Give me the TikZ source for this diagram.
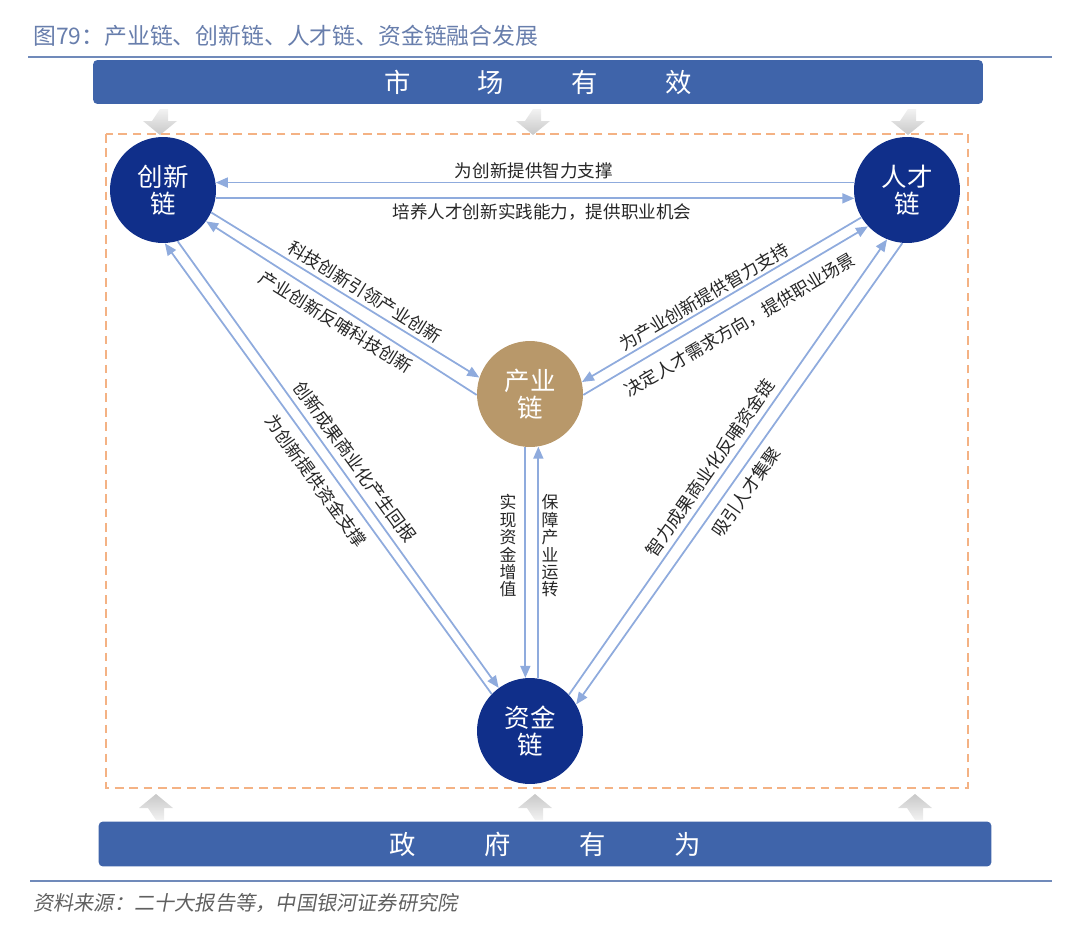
\documentclass[tikz,border=0pt]{standalone}
\usepackage{fontspec}
\setmainfont{Noto Sans CJK SC}
\newfontfamily\srcfont[FakeSlant=0.18]{Noto Sans CJK SC}
\usetikzlibrary{arrows.meta}
\definecolor{BarBlue}{RGB}{63,100,170}
\definecolor{ChainBlue}{RGB}{16,47,138}
\definecolor{ChainTan}{RGB}{184,152,106}
\definecolor{LinkBlue}{RGB}{143,171,221}
\definecolor{FrameOrange}{RGB}{244,178,132}
\definecolor{RuleBlue}{RGB}{112,138,186}
\definecolor{TitleBlue}{RGB}{104,126,172}
\definecolor{ArrowGray}{RGB}{200,200,200}
\tikzset{
  chain/.style={
    circle,
    minimum size=2.12cm,
    inner sep=0pt,
    align=center,
    text=white,
    font=\fontsize{14.5}{15.5}\selectfont
  },
  blue chain/.style={chain,fill=ChainBlue},
  tan chain/.style={chain,fill=ChainTan},
  link/.style={draw=LinkBlue,line width=1pt,-{Triangle[length=2.4mm,width=2mm]}},
  lbl/.style={font=\fontsize{10}{12}\selectfont,text=black!85,inner sep=1pt},
  vlbl/.style={lbl,align=center,font=\fontsize{9.6}{9.9}\selectfont},
  bar/.style={fill=BarBlue,rounded corners=2.5pt,text=white,font=\fontsize{15}{18}\selectfont},
  frame/.style={draw=FrameOrange,line width=1.5pt,dash pattern=on 5pt off 3.2pt},
  rule/.style={draw=RuleBlue,line width=1.6pt},
  down block/.style={top color=gray!10,bottom color=ArrowGray,draw=none},
  up block/.style={top color=ArrowGray,bottom color=gray!10,draw=none}
}

\begin{document}
\begin{tikzpicture}[x=0.02cm,y=-0.02cm]
\useasboundingbox (0,0) rectangle (1080,933);

% heading and rules
\node[anchor=west,text=TitleBlue,font=\fontsize{13}{15}\selectfont,inner sep=0pt] (title) at (33,36) {图79：产业链、创新链、人才链、资金链融合发展};
\draw[rule] (28,57) -- (1052,57);
\draw[rule] (30,881) -- (1052,881);
\node[anchor=west,text=gray!75!black,font=\srcfont\fontsize{11.5}{13}\selectfont,inner sep=0pt] (source) at (33,903) {资料来源：二十大报告等，中国银河证券研究院};

% market and government bars
\node[bar,minimum width=17.8cm,minimum height=0.88cm] (market) at (538,82) {市\hspace{1.35cm}场\hspace{1.35cm}有\hspace{1.35cm}效};
\node[bar,minimum width=17.86cm,minimum height=0.9cm] (gov) at (545,844) {政\hspace{1.37cm}府\hspace{1.37cm}有\hspace{1.37cm}为};

% gray block arrows
\path[down block] (160,109) -- ++(8,0) -- ++(0,12) -- ++(9,0) -- ++(-17,14) -- ++(-17,-14) -- ++(9,0) -- cycle;
\path[down block] (533,109) -- ++(8,0) -- ++(0,12) -- ++(9,0) -- ++(-17,14) -- ++(-17,-14) -- ++(9,0) -- cycle;
\path[down block] (908,109) -- ++(8,0) -- ++(0,12) -- ++(9,0) -- ++(-17,14) -- ++(-17,-14) -- ++(9,0) -- cycle;
\path[up block] (156,820) -- ++(8,0) -- ++(0,-12) -- ++(9,0) -- ++(-17,-14) -- ++(-17,14) -- ++(9,0) -- cycle;
\path[up block] (535,820) -- ++(8,0) -- ++(0,-12) -- ++(9,0) -- ++(-17,-14) -- ++(-17,14) -- ++(9,0) -- cycle;
\path[up block] (915,820) -- ++(8,0) -- ++(0,-12) -- ++(9,0) -- ++(-17,-14) -- ++(-17,14) -- ++(9,0) -- cycle;

% dashed frame
\draw[frame] (106,134) rectangle (968,788);

% the four chains
\node[blue chain] (inn) at (163,190) {创新\\链};
\node[blue chain] (tal) at (907,190) {人才\\链};
\node[tan chain] (ind) at (530,394) {产业\\链};
\node[blue chain] (fin) at (530,731) {资金\\链};

% links
\draw[link] (tal.172) -- (inn.8);
\draw[link] (inn.-9) -- (tal.189);
\draw[link] (inn.-25) -- (ind.162);
\draw[link] (ind.181) -- (inn.-36);
\draw[link] (fin.136) -- (inn.-88);
\draw[link] (inn.-74) -- (fin.126);
\draw[link] (tal.211) -- (ind.13);
\draw[link] (ind.-1) -- (tal.223);
\draw[link] (fin.43) -- (tal.248);
\draw[link] (tal.265) -- (fin.30);
\draw[link] (ind.-95) -- (fin.95);
\draw[link] (fin.81) -- (ind.-81);

% link labels
\node[lbl] (l1) at (534,171) {为创新提供智力支撑};
\node[lbl] (l2) at (542,212) {培养人才创新实践能力，提供职业机会};
\node[lbl,rotate=-32] (l3) at (365,292) {科技创新引领产业创新};
\node[lbl,rotate=-32] (l4) at (336,322) {产业创新反哺科技创新};
\node[lbl,rotate=-54] (l5) at (355,462) {创新成果商业化产生回报};
\node[lbl,rotate=-54] (l6) at (316,481) {为创新提供资金支撑};
\node[lbl,rotate=30.5] (l7) at (704,297) {为产业创新提供智力支持};
\node[lbl,rotate=30.5] (l8) at (740,325) {决定人才需求方向，提供职业场景};
\node[lbl,rotate=55] (l9) at (710,468) {智力成果商业化反哺资金链};
\node[lbl,rotate=55] (l10) at (746,492) {吸引人才集聚};
\node[vlbl] (l11) at (508,546) {实\\现\\资\\金\\增\\值};
\node[vlbl] (l12) at (550,546) {保\\障\\产\\业\\运\\转};

\end{tikzpicture}
\end{document}
